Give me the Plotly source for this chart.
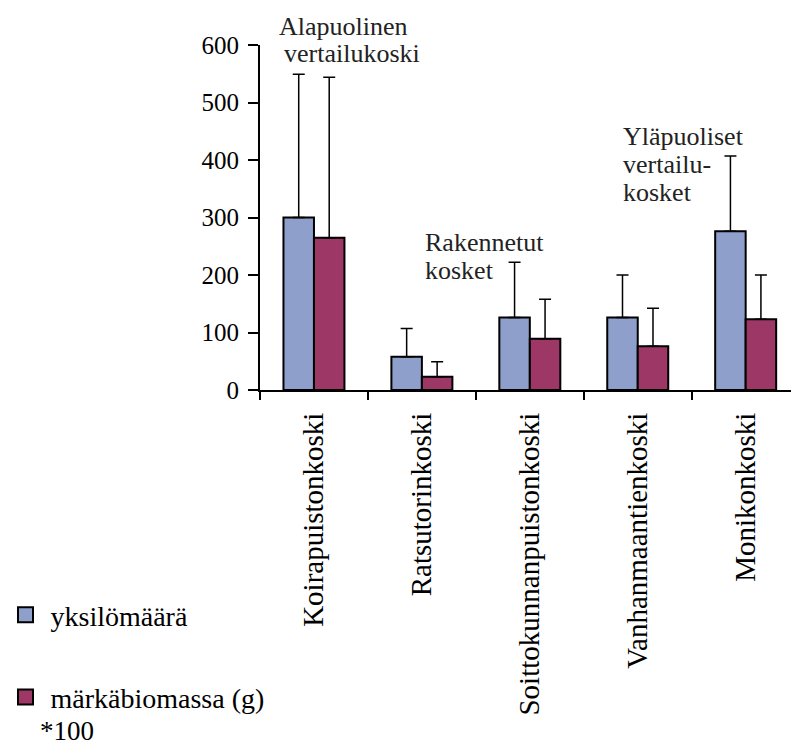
import plotly.graph_objects as go

categories = ["Koirapuistonkoski", "Ratsutorinkoski", "Soittokunnanpuistonkoski",
              "Vanhanmaantienkoski", "Monikonkoski"]
yksilomaara = [300, 58, 126, 126, 276]
yksilomaara_err = [249, 49, 96, 74, 131]
biomassa = [265, 23, 89, 76, 123]
biomassa_err = [279, 26, 69, 66, 77]
y_ticks = [0, 100, 200, 300, 400, 500, 600]

FONT = "Liberation Serif"
BLUE = "#8E9FCB"
RED = "#9C3766"

W, H = 791, 745
PLOT_L, PLOT_T, PLOT_R, PLOT_B = 260, 45, 791, 390  # pixels of plot area


def px(X):
    return (X - PLOT_L) / (PLOT_R - PLOT_L)


def py(Y):
    return (PLOT_B - Y) / (PLOT_B - PLOT_T)


fig = go.Figure()
fig.add_trace(go.Bar(
    x=categories, y=yksilomaara, name="yksilömäärä", showlegend=False,
    marker=dict(color=BLUE, line=dict(color="black", width=2)),
    error_y=dict(type="data", symmetric=False, array=yksilomaara_err,
                 arrayminus=[0] * 5, color="black", thickness=1.5, width=6),
))
fig.add_trace(go.Bar(
    x=categories, y=biomassa, name="märkäbiomassa (g)", showlegend=False,
    marker=dict(color=RED, line=dict(color="black", width=2)),
    error_y=dict(type="data", symmetric=False, array=biomassa_err,
                 arrayminus=[0] * 5, color="black", thickness=1.5, width=6),
))
# legend entries (larger square swatches, like the reference)
for name, col, grp in [("yksilömäärä", BLUE, "a"), ("märkäbiomassa (g)", RED, "b")]:
    fig.add_trace(go.Scatter(
        x=[None], y=[None], mode="markers", name=name, legendgroup=grp,
        marker=dict(symbol="square", size=15, color=col, line=dict(color="black", width=2)),
    ))

ann_font = dict(family=FONT, size=26, color="#222")
labels = [
    ("Alapuolinen", 277, 26),
    ("vertailukoski", 282, 53),
    ("Rakennetut", 423, 242),
    ("kosket", 423, 270),
    ("Yläpuoliset", 621, 136),
    ("vertailu-", 621, 164),
    ("kosket", 621, 192),
]
for txt, X, Y in labels:
    fig.add_annotation(x=px(X), xref="paper", y=py(Y), yref="paper", text=txt,
                       showarrow=False, font=ann_font, xanchor="left", yanchor="middle")
fig.add_annotation(x=px(38), xref="paper", y=py(731), yref="paper", text="*100",
                   showarrow=False, font=dict(family=FONT, size=27, color="black"),
                   xanchor="left", yanchor="middle")

fig.update_layout(
    width=W, height=H,
    margin=dict(l=PLOT_L, r=W - PLOT_R, t=PLOT_T, b=H - PLOT_B),
    paper_bgcolor="white", plot_bgcolor="white",
    barmode="group", bargap=0.435, bargroupgap=0,
    font=dict(family=FONT, size=26, color="black"),
    showlegend=True,
    legend=dict(x=px(0.5), y=py(590), xanchor="left", yanchor="top",
                tracegroupgap=43, traceorder="grouped",
                font=dict(family=FONT, size=28, color="black"),
                itemwidth=40, bgcolor="rgba(0,0,0,0)"),
    xaxis=dict(range=[-0.5, 4.42], showline=True, linecolor="black", linewidth=2,
               ticks="outside", tickson="boundaries", ticklen=8, tickwidth=2, tickcolor="black",
               tickangle=-90, showgrid=False, zeroline=False, ticklabelstandoff=9,
               tickfont=dict(family=FONT, size=29, color="black")),
    yaxis=dict(range=[0, 600], tickvals=y_ticks, showline=True, linecolor="black", linewidth=2,
               ticks="outside", ticklen=10, tickwidth=2, tickcolor="black",
               showgrid=False, zeroline=False, ticklabelstandoff=4,
               tickfont=dict(family=FONT, size=25, color="black")),
)

fig.write_html("out.html", config={"displayModeBar": False},
               post_script="document.body.style.margin='0px';document.body.style.overflow='hidden';")
